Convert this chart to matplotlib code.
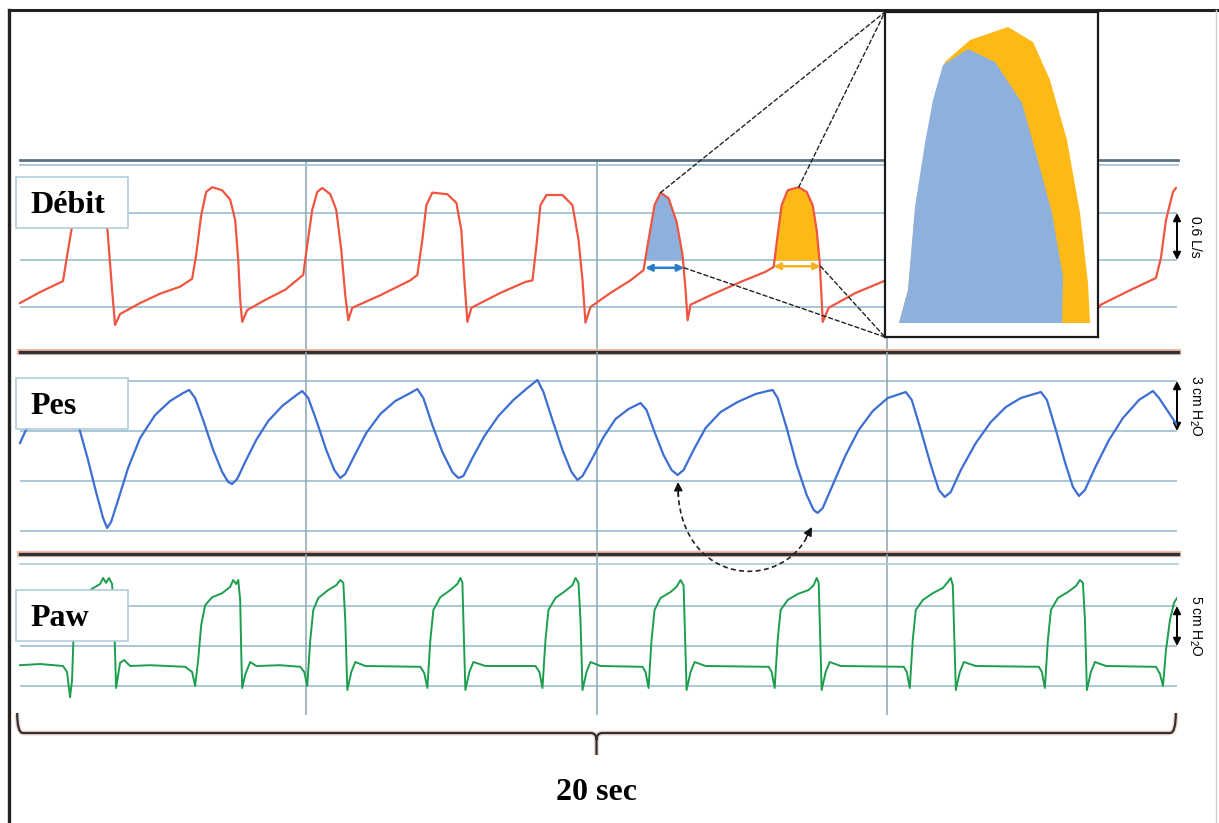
import numpy as np
import matplotlib.pyplot as plt
from matplotlib.patches import Rectangle, Polygon, PathPatch, ConnectionPatch
from matplotlib.path import Path
import matplotlib.transforms as mtransforms

# ---------------- data read off the tracings ----------------
# flow (L/s) vs time (s)
t_flow = np.array([
    0.069, 0.414, 0.810, 0.897, 0.966, 1.103, 1.276, 1.448, 1.569, 1.655, 1.707,
    1.793, 2.138, 2.483, 2.828, 3.034, 3.103, 3.190, 3.276, 3.379, 3.552, 3.690, 3.776, 3.828, 3.862, 3.897,
    3.983, 4.293, 4.638, 4.948, 5.017, 5.103, 5.190, 5.276, 5.414, 5.517, 5.603, 5.672, 5.724,
    5.793, 6.276, 6.793, 6.914, 7.000, 7.069, 7.172, 7.431, 7.586, 7.672, 7.724, 7.776,
    7.845, 8.345, 8.776, 8.897, 8.966, 9.034, 9.138, 9.414, 9.586, 9.690, 9.759, 9.810,
    9.897, 10.241, 10.586, 10.810, 10.897, 11.000, 11.103, 11.241, 11.379, 11.483, 11.534, 11.569,
    11.621, 11.966, 12.483, 12.914, 13.052, 13.121, 13.190, 13.293, 13.483, 13.621, 13.724, 13.793, 13.845, 13.879, 13.897,
    14.000, 14.466, 14.983, 15.328, 15.414, 15.500, 15.621, 15.845, 15.983, 16.069, 16.121, 16.155,
    16.241, 16.793, 17.310, 17.655, 17.741, 17.828, 17.948, 18.172, 18.293, 18.379, 18.431, 18.466,
    18.690, 19.207, 19.638, 19.724, 19.810, 19.931, 19.983])
flow = np.array([
    -0.55, -0.41, -0.27, 0.13, 0.43, 0.83, 0.92, 0.87, 0.45, -0.38, -0.83,
    -0.69, -0.55, -0.43, -0.34, -0.24, 0.06, 0.57, 0.87, 0.93, 0.89, 0.77, 0.51, 0.00, -0.51, -0.79,
    -0.64, -0.51, -0.38, -0.19, 0.19, 0.64, 0.87, 0.92, 0.84, 0.64, 0.13, -0.45, -0.77,
    -0.61, -0.45, -0.26, -0.19, 0.26, 0.70, 0.86, 0.84, 0.73, 0.38, -0.26, -0.79,
    -0.61, -0.42, -0.28, -0.26, 0.19, 0.70, 0.83, 0.83, 0.70, 0.26, -0.26, -0.80,
    -0.60, -0.42, -0.26, -0.13, 0.26, 0.70, 0.86, 0.79, 0.49, 0.06, -0.38, -0.77,
    -0.57, -0.45, -0.28, -0.15, -0.09, 0.32, 0.70, 0.89, 0.93, 0.87, 0.70, 0.38, -0.03, -0.51, -0.79,
    -0.61, -0.42, -0.26, -0.15, 0.26, 0.70, 0.87, 0.87, 0.70, 0.26, -0.38, -0.77,
    -0.61, -0.41, -0.26, -0.15, 0.26, 0.70, 0.87, 0.86, 0.70, 0.26, -0.38, -0.77,
    -0.57, -0.38, -0.23, 0.03, 0.51, 0.87, 0.92])

# oesophageal pressure (cmH2O, relative) vs time (s)
t_pes = np.array([
    0.069, 0.155, 0.328, 0.586, 0.759, 0.897, 1.017, 1.103, 1.241, 1.379, 1.500, 1.569, 1.638, 1.759, 1.931,
    2.138, 2.397, 2.655, 2.879, 2.983,
    3.086, 3.224, 3.397, 3.552, 3.655, 3.724, 3.810, 3.948, 4.138, 4.345, 4.586, 4.810, 4.931,
    5.034, 5.172, 5.345, 5.483, 5.586, 5.672, 5.828, 6.034, 6.276, 6.534, 6.793, 6.914,
    7.017, 7.172, 7.345, 7.517, 7.621, 7.707, 7.862, 8.069, 8.310, 8.569, 8.810, 8.983,
    9.086, 9.241, 9.414, 9.569, 9.672, 9.759, 9.931, 10.121, 10.328, 10.552, 10.759,
    10.862, 11.000, 11.155, 11.293, 11.397, 11.500, 11.672, 11.879, 12.138, 12.431, 12.741, 12.948, 13.034,
    13.121, 13.276, 13.448, 13.621, 13.741, 13.810, 13.897, 14.069, 14.293, 14.517, 14.759, 15.017, 15.328,
    15.431, 15.586, 15.759, 15.897, 16.000, 16.103, 16.276, 16.534, 16.793, 17.052, 17.310, 17.655,
    17.759, 17.914, 18.069, 18.207, 18.310, 18.414, 18.603, 18.828, 19.069, 19.345, 19.586,
    19.690, 19.828, 20.000])
pes = np.array([
    -0.72, -0.06, 0.96, 1.74, 1.98, 1.56, 0.66, 0.00, -1.74, -3.66, -5.22, -5.82, -5.46, -4.14, -2.22,
    -0.42, 0.96, 1.80, 2.28, 2.46,
    1.98, 0.66, -1.14, -2.46, -3.06, -3.18, -2.88, -1.86, -0.54, 0.60, 1.50, 2.10, 2.40,
    1.98, 0.66, -1.14, -2.34, -2.82, -2.58, -1.50, -0.12, 1.02, 1.80, 2.28, 2.52,
    1.98, 0.36, -1.26, -2.46, -2.82, -2.70, -1.62, -0.30, 0.90, 1.86, 2.58, 3.06,
    2.34, 0.66, -1.14, -2.46, -2.94, -2.70, -1.62, -0.36, 0.72, 1.32, 1.68,
    1.26, -0.06, -1.44, -2.34, -2.64, -2.34, -1.14, 0.18, 1.14, 1.74, 2.22, 2.40, 2.46,
    1.98, 0.18, -2.04, -3.84, -4.74, -4.92, -4.62, -3.24, -1.44, 0.06, 1.20, 1.98, 2.34,
    1.86, 0.06, -2.04, -3.54, -3.96, -3.66, -2.34, -0.72, 0.54, 1.44, 1.98, 2.34,
    1.86, 0.06, -1.86, -3.36, -3.90, -3.54, -2.10, -0.54, 0.78, 1.86, 2.40,
    1.98, 1.26, 0.36])

# airway pressure (cmH2O) vs time (s)
t_paw = np.array([
    0.069, 0.414, 0.810, 0.879, 0.931, 0.966, 1.000, 1.103, 1.276, 1.448, 1.500, 1.552, 1.603, 1.655, 1.690,
    1.724, 1.793, 1.862, 1.966, 2.310,
    2.914, 3.034, 3.086, 3.138, 3.190, 3.259, 3.379, 3.552, 3.690, 3.741, 3.793, 3.828, 3.862, 3.879, 3.897,
    3.948, 4.034, 4.138, 4.552, 4.897,
    4.966, 5.017, 5.069, 5.121, 5.207, 5.379, 5.517, 5.586, 5.638, 5.672, 5.707, 5.776, 5.845, 6.017, 6.966,
    7.034, 7.086, 7.138, 7.190, 7.310, 7.483, 7.603, 7.655, 7.690, 7.707, 7.741, 7.810, 7.879, 8.086, 8.948,
    9.017, 9.069, 9.121, 9.172, 9.293, 9.466, 9.586, 9.638, 9.690, 9.724, 9.759, 9.828, 9.897, 10.069, 10.793,
    10.845, 10.897, 10.948, 11.000, 11.103, 11.276, 11.379, 11.448, 11.500, 11.517, 11.552, 11.621, 11.690, 11.879, 12.966,
    13.017, 13.069, 13.121, 13.172, 13.293, 13.466, 13.655, 13.741, 13.793, 13.828, 13.845, 13.879, 13.948, 14.017, 14.207, 15.293,
    15.345, 15.397, 15.448, 15.500, 15.621, 15.793, 15.966, 16.052, 16.103, 16.138, 16.155, 16.190, 16.259, 16.328, 16.534, 17.621,
    17.672, 17.724, 17.776, 17.828, 17.948, 18.121, 18.259, 18.328, 18.379, 18.414, 18.448, 18.517, 18.586, 18.776, 19.638,
    19.707, 19.759, 19.810, 19.879, 19.948, 20.000])
paw = np.array([
    2.6, 2.75, 2.5, 1.75, -1.4, 0.75, 8.25, 10.75, 12.0, 12.75, 13.5, 12.9, 13.5, 12.75, 8.25,
    -0.25, 2.9, 3.25, 2.5, 2.6,
    2.4, 1.75, 0.0, 3.25, 7.6, 10.1, 11.1, 11.6, 12.4, 13.25, 12.75, 13.25, 10.75, 4.5, -0.25,
    1.4, 3.0, 2.5, 2.6, 2.4,
    1.75, 0.0, 5.75, 9.5, 11.0, 12.0, 12.6, 13.25, 12.9, 8.25, -0.5, 1.75, 3.0, 2.5, 2.4,
    1.6, -0.25, 5.75, 9.5, 11.1, 12.0, 12.75, 13.5, 12.9, 8.25, -0.5, 1.75, 3.0, 2.5, 2.5,
    1.75, -0.25, 5.75, 9.5, 11.0, 11.9, 12.6, 13.5, 12.9, 8.25, -0.5, 1.75, 3.0, 2.5, 2.4,
    1.75, -0.25, 5.75, 9.5, 11.0, 11.75, 12.4, 13.25, 12.6, 8.25, -0.5, 1.75, 3.0, 2.5, 2.4,
    1.75, -0.25, 5.75, 9.5, 10.75, 11.5, 12.0, 12.6, 13.5, 12.9, 8.25, -0.5, 1.75, 3.0, 2.5, 2.4,
    1.75, -0.25, 5.75, 9.5, 10.75, 11.6, 12.25, 13.0, 13.5, 12.6, 8.25, -0.5, 1.75, 3.0, 2.5, 2.4,
    1.75, -0.25, 5.75, 9.5, 11.0, 11.75, 12.5, 13.25, 12.9, 8.25, -0.5, 1.75, 3.0, 2.5, 2.4,
    1.5, 0.0, 4.5, 8.25, 10.4, 11.0])

# two highlighted inspirations (start/end time, s) and their marker level (L/s)
insp_start = [10.84, 13.05]
insp_end = [11.51, 13.86]
insp_mark = [-0.10, -0.08]

# zoomed superposition of the two inspiratory flow shapes (inset units)
zoom_blue_t = [14, 23, 30, 40, 48, 58, 83, 110, 137, 152, 167, 178, 177]
zoom_blue_q = [14, 47, 130, 194, 237, 272, 288, 275, 234, 180, 124, 60, 14]
zoom_yel_t = [14, 23, 30, 40, 50, 60, 85, 123, 148, 165, 182, 195, 203, 205]
zoom_yel_q = [14, 47, 127, 187, 242, 275, 297, 310, 295, 257, 197, 124, 54, 14]

labels = ['Débit', 'Pes', 'Paw']
scale_text = ['0.6 L/s', r'3 cm H$_\mathregular{2}$O', r'5 cm H$_\mathregular{2}$O']
scale_lo = [0.0, 0.0, 5.0]
scale_hi = [0.6, 3.0, 10.0]

# ---------------- layout ----------------
W, H = 1219, 823
fig = plt.figure(figsize=(W / 100, H / 100), dpi=100)

def box(x0, y0, x1, y1):
    return fig.add_axes([x0 / W, 1 - y1 / H, (x1 - x0) / W, (y1 - y0) / H])

RED = '#EF5540'
BLUE = '#3C6ED4'
GREEN = '#1C9E4C'
GRID = '#93B8CA'
VGRID = '#89A6B4'
DARK = '#2A3339'
SHADE = '#F6B9A2'

ax_q = box(16, 160, 1177, 352)
ax_pes = box(16, 352, 1177, 554)
ax_paw = box(16, 554, 1177, 715)
ax_q.set_ylim(-1.175, 1.277)
ax_pes.set_ylim(-7.38, 4.74)
ax_paw.set_ylim(-3.625, 16.5)

grids = [[0.6, 0.0, -0.6], [3, 0, -3, -6], [10, 5, 0]]
for ax, lev in zip([ax_q, ax_pes, ax_paw], grids):
    ax.set_xlim(0, 20)
    ax.axis('off')
    ax.set_zorder(1)
    ax.hlines(lev, 0.07, 20.02, color=GRID, lw=1.1, zorder=1)
    ax.vlines([5, 10, 15], *ax.get_ylim(), color=VGRID, lw=1.1, zorder=1)

# panel borders
ax_q.plot([0.07, 20.02], [1.277, 1.277], color='#5B7380', lw=2, clip_on=False, zorder=2)
ax_q.plot([0.07, 20.02], [1.213, 1.213], color='#9DC2D2', lw=1.2, clip_on=False, zorder=2)
for ax in [ax_q, ax_pes]:
    yb = ax.get_ylim()[0]
    ax.plot([0.07, 20.02], [yb, yb], color=SHADE, lw=4.5, clip_on=False, zorder=2)
    ax.plot([0.07, 20.02], [yb, yb], color=DARK, lw=2.4, clip_on=False, zorder=3)
ax_paw.plot([0.07, 20.02], [15.25, 15.25], color='#A5C6D5', lw=1.1, clip_on=False, zorder=2)

# traces
ax_q.plot(t_flow, flow, color=RED, lw=1.6, zorder=4)
ax_pes.plot(t_pes, pes, color=BLUE, lw=1.6, zorder=4)
ax_paw.plot(t_paw, paw, color=GREEN, lw=1.4, zorder=4)

# highlighted inspirations
fills = ['#8DB1DC', '#FDBA17']
arrows = ['#2A7CC7', '#F6B21E']
peaks = []
for s, e, m, fc, ac in zip(insp_start, insp_end, insp_mark, fills, arrows):
    sel = (t_flow >= s - 0.1) & (t_flow <= e + 0.1)
    ax_q.fill_between(t_flow, flow, 0, where=sel & (flow >= 0), interpolate=True,
                      color=fc, lw=0, zorder=3)
    ax_q.annotate('', xy=(s, m), xytext=(e, m),
                  arrowprops=dict(arrowstyle='<|-|>', color=ac, lw=1.8,
                                  mutation_scale=10, shrinkA=0, shrinkB=0), zorder=5)
    i = np.argmax(np.where(sel, flow, -9))
    peaks.append((t_flow[i], flow[i], e, m))

# scale bars
for ax, txt, lo, hi in zip([ax_q, ax_pes, ax_paw], scale_text, scale_lo, scale_hi):
    ax.annotate('', xy=(20.0, hi), xytext=(20.0, lo), annotation_clip=False,
                arrowprops=dict(arrowstyle='<|-|>', color='black', lw=1.4,
                                mutation_scale=11, shrinkA=0, shrinkB=0))
    ax.text(20.31, (lo + hi) / 2, txt, rotation=270, ha='center', va='center',
            fontsize=10, family=['Liberation Sans', 'DejaVu Sans'], clip_on=False)

# decoration layer in pixel coordinates
deco = fig.add_axes([0, 0, 1, 1])
deco.set_xlim(0, W)
deco.set_ylim(H, 0)
deco.axis('off')
deco.set_zorder(2)

deco.plot([9, 9], [10, H], color='#222222', lw=2.4)
deco.plot([9, W], [10, 10], color='#222222', lw=2.2)
deco.plot([1216, 1216], [10, H], color='#D0D0D0', lw=1)

for lab, ytop in zip(labels, [177, 378, 590]):
    deco.add_patch(Rectangle((16, ytop), 112, 51, facecolor='white',
                             edgecolor='#A8CADA', lw=1.1, zorder=5))
    deco.text(30, ytop + 36, lab, fontsize=23, fontweight='bold',
              family='Liberation Serif', va='baseline', zorder=6)

# time brace (x in seconds, y in pixels)
tb = mtransforms.blended_transform_factory(ax_paw.transData, deco.transData)
brace = Path([(0.02, 713), (0.02, 733), (0.12, 733), (9.9, 733), (10.0, 733), (10.0, 740), (10.0, 755),
              (10.0, 740), (10.0, 733), (10.1, 733), (19.88, 733), (19.98, 733), (19.98, 713)],
             [Path.MOVETO, Path.CURVE3, Path.CURVE3, Path.LINETO, Path.CURVE3, Path.CURVE3, Path.LINETO,
              Path.MOVETO, Path.CURVE3, Path.CURVE3, Path.LINETO, Path.CURVE3, Path.CURVE3])
deco.add_patch(PathPatch(brace, transform=tb, fill=False, edgecolor=SHADE, lw=3.5, alpha=0.6))
deco.add_patch(PathPatch(brace, transform=tb, fill=False, edgecolor=DARK, lw=1.6))
deco.text(10.0, 800, '20 sec', transform=tb, ha='center', va='baseline',
          fontsize=23, fontweight='bold', family='Liberation Serif')

# dashed curved arrow between the two Pes troughs
curve = Path([(678, 492), (683, 585), (780, 592), (808, 535)],
             [Path.MOVETO, Path.CURVE4, Path.CURVE4, Path.CURVE4])
deco.add_patch(PathPatch(curve, fill=False, edgecolor='#222222', lw=1.2, ls=(0, (3, 2))))
for tip, back in [((678, 482), (678.5, 496)), ((812, 527), (806, 538))]:
    deco.annotate('', xy=tip, xytext=back,
                  arrowprops=dict(arrowstyle='-|>', color='#111111', lw=1,
                                  mutation_scale=13, shrinkA=0, shrinkB=0))

# inset with the superposed inspiratory flows
ins = box(885, 12, 1098, 337)
ins.set_zorder(4)
ins.set_xlim(0, 213)
ins.set_ylim(0, 325)
ins.set_xticks([])
ins.set_yticks([])
ins.set_facecolor('white')
for sp in ins.spines.values():
    sp.set_linewidth(1.6)
    sp.set_color('#1A1A1A')
ins.add_patch(Polygon(np.column_stack([zoom_yel_t, zoom_yel_q]), closed=True,
                      facecolor='#FDBA17', edgecolor='none'))
ins.add_patch(Polygon(np.column_stack([zoom_blue_t, zoom_blue_q]), closed=True,
                      facecolor='#8DB1DC', edgecolor='none'))

for tp, qp, te, qm in peaks:
    for xyA, xyB in [((tp, qp), (0, 1)), ((te, qm), (0, 0))]:
        con = ConnectionPatch(xyA=xyA, coordsA=ax_q.transData, xyB=xyB, coordsB=ins.transAxes,
                              color='#222222', lw=1, ls=(0, (3, 2)))
        con.set_zorder(3)
        fig.add_artist(con)

fig.savefig('out.png', dpi=100)
